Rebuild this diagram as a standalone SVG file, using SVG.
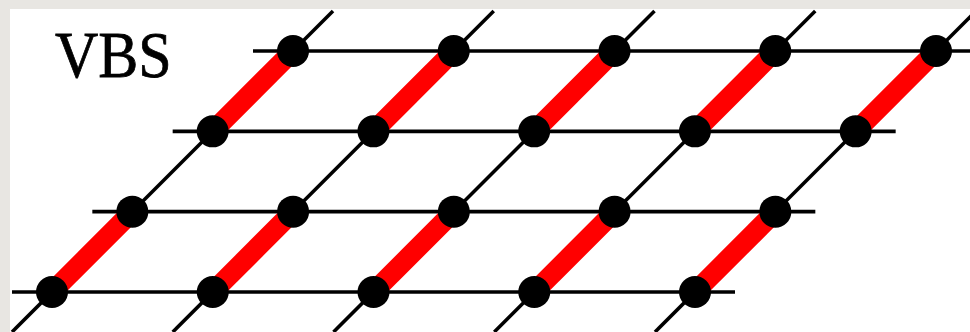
<svg xmlns="http://www.w3.org/2000/svg" width="970" height="332" viewBox="0 0 970 332">
<style>
.ln{stroke:#000;stroke-width:3.6;fill:none}
.bond{stroke:#ff0000;stroke-width:20;stroke-linecap:butt}
.dot{fill:#000}
.lbl{font-family:"Liberation Serif","Times New Roman",serif;font-size:60px;fill:#000;stroke:#000;stroke-width:0.7}
</style>
<rect x="0" y="0" width="970" height="332" fill="#e8e6e2"/>
<rect x="10" y="9" width="960" height="323" fill="#fff"/>
<text class="lbl" x="55" y="0" transform="translate(0,77) scale(1,1.1)">VBS</text>
<g id="connectors">
<line class="ln" x1="253" y1="51" x2="976" y2="51"/>
<line class="ln" x1="172.67" y1="131.33" x2="895.67" y2="131.33"/>
<line class="ln" x1="92.33" y1="211.67" x2="815.33" y2="211.67"/>
<line class="ln" x1="12" y1="292" x2="735" y2="292"/>
<line class="ln" x1="12" y1="332" x2="333" y2="11"/>
<line class="ln" x1="172.75" y1="332" x2="493.75" y2="11"/>
<line class="ln" x1="333.5" y1="332" x2="654.5" y2="11"/>
<line class="ln" x1="494.25" y1="332" x2="815.25" y2="11"/>
<line class="ln" x1="655" y1="332" x2="976" y2="11"/>
<line class="bond" x1="293" y1="51" x2="212.67" y2="131.33"/>
<line class="bond" x1="453.75" y1="51" x2="373.42" y2="131.33"/>
<line class="bond" x1="614.5" y1="51" x2="534.17" y2="131.33"/>
<line class="bond" x1="775.25" y1="51" x2="694.92" y2="131.33"/>
<line class="bond" x1="936" y1="51" x2="855.67" y2="131.33"/>
<line class="bond" x1="132.33" y1="211.67" x2="52" y2="292"/>
<line class="bond" x1="293.08" y1="211.67" x2="212.75" y2="292"/>
<line class="bond" x1="453.83" y1="211.67" x2="373.5" y2="292"/>
<line class="bond" x1="614.58" y1="211.67" x2="534.25" y2="292"/>
<line class="bond" x1="775.33" y1="211.67" x2="695" y2="292"/>
</g>
<g id="n00"><circle class="dot" cx="293" cy="51" r="16"/></g>
<g id="n01"><circle class="dot" cx="453.75" cy="51" r="16"/></g>
<g id="n02"><circle class="dot" cx="614.5" cy="51" r="16"/></g>
<g id="n03"><circle class="dot" cx="775.25" cy="51" r="16"/></g>
<g id="n04"><circle class="dot" cx="936" cy="51" r="16"/></g>
<g id="n10"><circle class="dot" cx="212.67" cy="131.33" r="16"/></g>
<g id="n11"><circle class="dot" cx="373.42" cy="131.33" r="16"/></g>
<g id="n12"><circle class="dot" cx="534.17" cy="131.33" r="16"/></g>
<g id="n13"><circle class="dot" cx="694.92" cy="131.33" r="16"/></g>
<g id="n14"><circle class="dot" cx="855.67" cy="131.33" r="16"/></g>
<g id="n20"><circle class="dot" cx="132.33" cy="211.67" r="16"/></g>
<g id="n21"><circle class="dot" cx="293.08" cy="211.67" r="16"/></g>
<g id="n22"><circle class="dot" cx="453.83" cy="211.67" r="16"/></g>
<g id="n23"><circle class="dot" cx="614.58" cy="211.67" r="16"/></g>
<g id="n24"><circle class="dot" cx="775.33" cy="211.67" r="16"/></g>
<g id="n30"><circle class="dot" cx="52" cy="292" r="16"/></g>
<g id="n31"><circle class="dot" cx="212.75" cy="292" r="16"/></g>
<g id="n32"><circle class="dot" cx="373.5" cy="292" r="16"/></g>
<g id="n33"><circle class="dot" cx="534.25" cy="292" r="16"/></g>
<g id="n34"><circle class="dot" cx="695" cy="292" r="16"/></g>
</svg>
